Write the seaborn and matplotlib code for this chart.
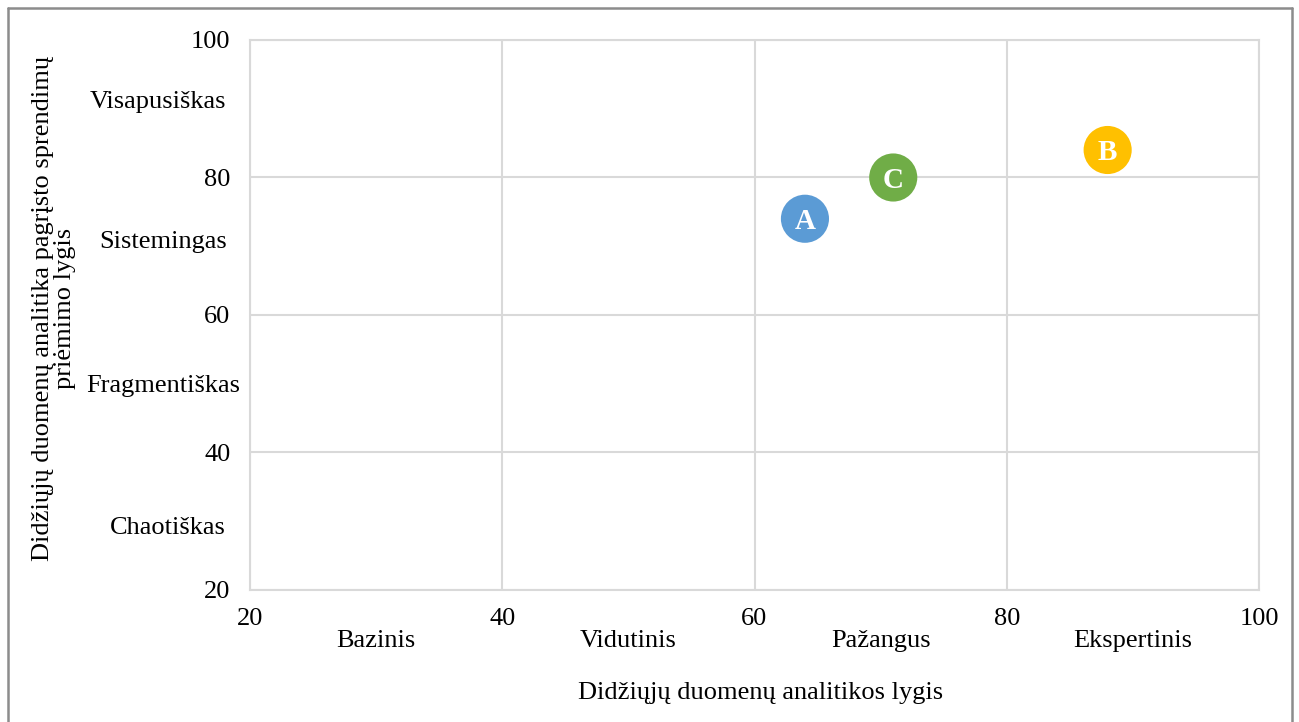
import matplotlib
matplotlib.use("Agg")
import matplotlib.pyplot as plt
import matplotlib.transforms as mtransforms
from matplotlib.lines import Line2D
import pandas as pd
import seaborn as sns

# Organisations positioned by analytics maturity (x) and decision-making maturity (y)
orgs = ["A", "C", "B"]
analytics_level = [64, 71, 88]
decision_level = [74, 80, 84]
org_colors = ["#5B9BD5", "#70AD47", "#FFC000"]

ticks = [20, 40, 60, 80, 100]
x_levels = ["Bazinis", "Vidutinis", "Pažangus", "Ekspertinis"]
x_level_mid = [30, 50, 70, 90]
y_levels = ["Chaotiškas", "Fragmentiškas", "Sistemingas", "Visapusiškas"]
y_level_mid = [29, 49.7, 70.6, 91]

x_title = "Didžiųjų duomenų analitikos lygis"
y_title = "Didžiųjų duomenų analitika pagrįsto sprendimų\npriėmimo lygis"

sns.set_theme(style="white")
plt.rcParams["font.family"] = ["Liberation Serif", "DejaVu Serif"]
plt.rcParams["text.color"] = "black"

FS = 19

df = pd.DataFrame({"org": orgs, "x": analytics_level, "y": decision_level})

fig = plt.figure(figsize=(12.99, 7.22), dpi=100)
ax = fig.add_axes([250 / 1299, 1 - 590 / 722, 1009 / 1299, 550 / 722])

sns.scatterplot(data=df, x="x", y="y", hue="org", palette=org_colors,
                s=1200, linewidth=0, legend=False, ax=ax, zorder=3)
for name, xv, yv in zip(orgs, analytics_level, decision_level):
    ax.text(xv, yv, name, ha="center", va="center_baseline", color="white",
            fontsize=21, fontweight="bold", zorder=4)

grid_c = "#D9D9D9"
ax.set_xlim(20, 100)
ax.set_ylim(20, 100)
ax.set_xticks(ticks)
ax.set_yticks(ticks)
ax.grid(True, color=grid_c, linewidth=1.5)
ax.set_axisbelow(True)
for sp in ax.spines.values():
    sp.set_color(grid_c)
    sp.set_linewidth(1.5)
ax.tick_params(axis="both", length=0, labelsize=FS, colors="black")
ax.tick_params(axis="x", pad=13)
ax.tick_params(axis="y", pad=14)
ax.set_xlabel("")
ax.set_ylabel("")

# Level names under the x axis and left of the y axis
tx = mtransforms.blended_transform_factory(ax.transData, fig.transFigure)
for lab, m in zip(x_levels, x_level_mid):
    ax.text(m, 1 - 641 / 722, lab, transform=tx, ha="center", va="center",
            fontsize=FS, clip_on=False)
ty = mtransforms.blended_transform_factory(fig.transFigure, ax.transData)
y_label_px = [168, 163, 163, 158]
for lab, m, px in zip(y_levels, y_level_mid, y_label_px):
    ax.text(px / 1299, m, lab, transform=ty, ha="center", va="center",
            fontsize=FS, clip_on=False)

fig.text(761 / 1299, 1 - 693 / 722, x_title, ha="center", va="center", fontsize=FS)
fig.text(54 / 1299, 1 - 308 / 722, y_title, ha="center", va="center",
         rotation=90, fontsize=FS, linespacing=1.05)

# Outer frame (open at the bottom)
frame_c = "#8C8C8C"
fx0, fx1, fy0 = 8 / 1299, 1292 / 1299, 1 - 8 / 722
for xs, ys in [([fx0, fx0], [0, fy0]), ([fx0, fx1], [fy0, fy0]), ([fx1, fx1], [fy0, 0])]:
    fig.add_artist(Line2D(xs, ys, transform=fig.transFigure, color=frame_c, linewidth=1.8))

fig.savefig("out.png", dpi=100)
